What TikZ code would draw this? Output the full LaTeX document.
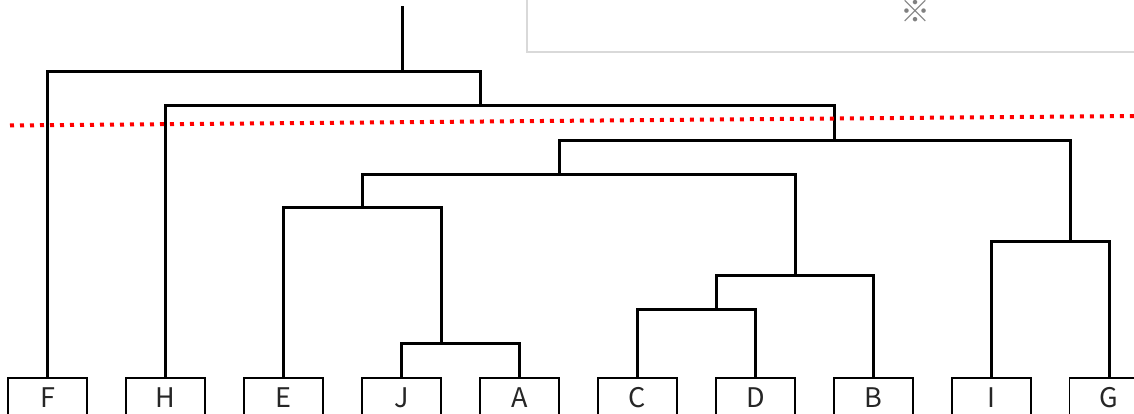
\documentclass[tikz,border=0pt]{standalone}
\usepackage{fontspec}
\newfontfamily\jpfont{Noto Sans CJK JP}
\tikzset{
  leaf/.style={draw=black, line width=1.6pt, minimum width=79pt, minimum height=40pt, inner sep=0pt, anchor=north, font=\jpfont\fontsize{27}{27}\selectfont, text=black!85},
  tree/.style={draw=black, line width=3pt, line join=miter},
  cut/.style={draw=red, line width=4pt, dash pattern=on 4pt off 6pt},
  note/.style={draw=black!15, line width=1.5pt, fill=white}
}
\begin{document}
\begin{tikzpicture}[x=1pt,y=-1pt]
\clip (0,0) rectangle (1134,414);
\fill[white] (0,0) rectangle (1134,414);
% note box
\node[note, minimum width=620pt, minimum height=70pt, anchor=south west, inner sep=0pt] (notebox) at (526,53) {};
\node[font=\jpfont\fontsize{30}{30}\selectfont, text=black!50, inner sep=0pt] (star) at (915,11.5) {※};
% leaves
\foreach \n/\i in {F/0,H/1,E/2,J/3,A/4,C/5,D/6,B/7,I/8,G/9}{
  \node[leaf] (\n) at ({47.6+117.95*\i},377) {\n};
}
% merge points
\coordinate (mJA) at (441.5,343);
\coordinate (mEJA) at (362,207.5);
\coordinate (mCD) at (716.5,309.7);
\coordinate (mCDB) at (795,275.3);
\coordinate (m5) at (559,174.3);
\coordinate (mIG) at (1070,241.5);
\coordinate (m7) at (834,140.7);
\coordinate (m8) at (480.3,106);
\coordinate (m9) at (402.3,72);
\coordinate (root) at (402.3,6);
% tree
\draw[tree] (J.north) |- (mJA) -| (A.north);
\draw[tree] (E.north) |- (mEJA) -| (mJA);
\draw[tree] (C.north) |- (mCD) -| (D.north);
\draw[tree] (mCD) |- (mCDB) -| (B.north);
\draw[tree] (mEJA) |- (m5) -| (mCDB);
\draw[tree] (I.north) |- (mIG) -| (G.north);
\draw[tree] (m5) |- (m7) -| (mIG);
\draw[tree] (H.north) |- (m8) -| (m7);
\draw[tree] (F.north) |- (m9) -| (m8);
\draw[tree] (m9) -- (root);
% cut line
\coordinate (cutL) at (10,125.5);
\coordinate (cutR) at (1134,116);
\draw[cut] (cutL) -- (cutR);
\end{tikzpicture}
\end{document}
